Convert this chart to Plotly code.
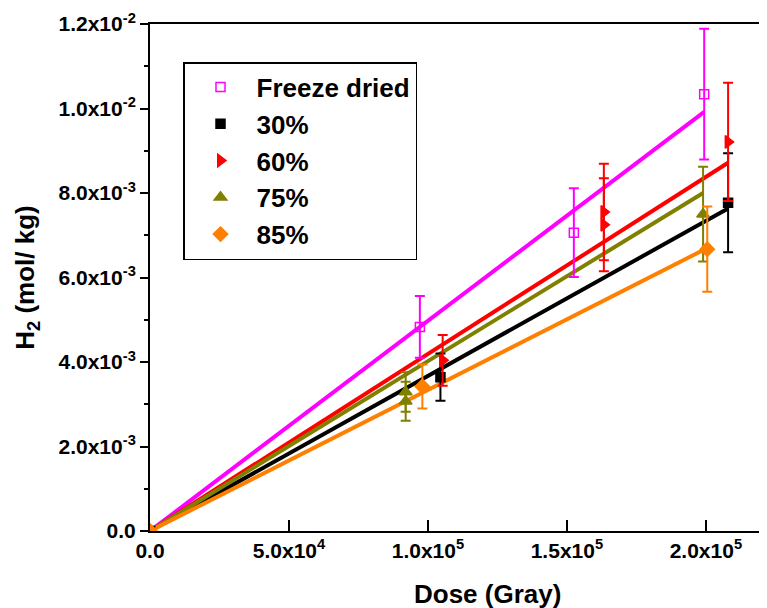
import plotly.graph_objects as go

# ---- data ----
series_names = ["Freeze dried", "30%", "60%", "75%", "85%"]

fd_x = [0, 0.971e5, 1.525e5, 1.994e5]
fd_y = [0, 4.83e-3, 7.06e-3, 10.34e-3]
fd_e = [0, 0.73e-3, 1.05e-3, 1.55e-3]

p30_x = [0, 1.045e5, 2.08e5]
p30_y = [0, 3.64e-3, 7.77e-3]
p30_e = [0, 0.56e-3, 1.17e-3]

p60_x = [0, 1.053e5, 1.633e5, 1.633e5, 2.08e5]
p60_y = [0, 4.04e-3, 7.55e-3, 7.25e-3, 9.21e-3]
p60_e = [0, 0.60e-3, 1.14e-3, 1.10e-3, 1.40e-3]

p75_x = [0, 0.92e5, 0.92e5, 1.99e5]
p75_y = [0, 3.29e-3, 3.07e-3, 7.50e-3]
p75_e = [0, 0.47e-3, 0.46e-3, 1.12e-3]

p85_x = [0, 0.98e5, 2.005e5]
p85_y = [0, 3.42e-3, 6.67e-3]
p85_e = [0, 0.52e-3, 1.01e-3]

# linear fits through origin (slope, mol/kg per Gray)
fit_slopes = [4.975e-8, 3.67e-8, 4.19e-8, 4.02e-8, 3.34e-8]

x_tickvals = [0, 5e4, 1e5, 1.5e5, 2e5]
x_ticktext = ["0.0", "5.0x10<sup>4</sup>", "1.0x10<sup>5</sup>", "1.5x10<sup>5</sup>", "2.0x10<sup>5</sup>"]
y_tickvals = [0, 2e-3, 4e-3, 6e-3, 8e-3, 10e-3, 12e-3]
y_ticktext = ["0.0", "2.0x10<sup>-3</sup>", "4.0x10<sup>-3</sup>", "6.0x10<sup>-3</sup>",
              "8.0x10<sup>-3</sup>", "1.0x10<sup>-2</sup>", "1.2x10<sup>-2</sup>"]

# ---- styles ----
colors = ["#FF00FF", "#000000", "#FF0000", "#808000", "#FF8000"]
symbols = ["square-open", "square", "triangle-right", "triangle-up", "diamond"]
msizes = [9, 9, 11, 11, 11]

xs = [fd_x, p30_x, p60_x, p75_x, p85_x]
ys = [fd_y, p30_y, p60_y, p75_y, p85_y]
es = [fd_e, p30_e, p60_e, p75_e, p85_e]

FONT = "Liberation Sans, Arial, sans-serif"

fig = go.Figure()

# fit lines
for i in range(5):
    xmax = max(xs[i])
    fig.add_trace(go.Scatter(
        x=[0, xmax], y=[0, fit_slopes[i] * xmax], mode="lines",
        line=dict(color=colors[i], width=4), showlegend=False, hoverinfo="skip"))

# data points with error bars
for i in range(5):
    fig.add_trace(go.Scatter(
        x=xs[i], y=ys[i], mode="markers", name=series_names[i],
        marker=dict(symbol=symbols[i], size=msizes[i], color=colors[i],
                    line=dict(color=colors[i], width=1.5)),
        error_y=dict(type="data", array=es[i], visible=True, color=colors[i],
                     thickness=2, width=5)))

# the page body adds an 8px margin, so the figure is 8px smaller than the window
fig.update_layout(
    width=759, height=600,
    margin=dict(l=142, r=0, t=16, b=77, autoexpand=False),
    paper_bgcolor="white", plot_bgcolor="white",
    font=dict(family=FONT, color="black", weight="bold"),
    showlegend=True,
    legend=dict(
        x=(183 - 150) / 617, y=(531 - 62) / 507, xanchor="left", yanchor="top",
        bgcolor="white", bordercolor="black", borderwidth=1.5,
        font=dict(family=FONT, size=26, color="black", weight="bold"),
        itemwidth=62, tracegroupgap=0),
)

fig.update_xaxes(
    range=[0, 2.22e5], showgrid=False, zeroline=False, automargin=False,
    showline=True, linecolor="black", linewidth=2, mirror=True,
    ticks="inside", ticklen=11, tickwidth=2, tickcolor="black",
    tickmode="array", tickvals=x_tickvals, ticktext=x_ticktext,
    tickfont=dict(family=FONT, size=21, color="black", weight="bold"),
)
fig.update_yaxes(
    range=[0, 0.012], showgrid=False, zeroline=False, automargin=False,
    showline=True, linecolor="black", linewidth=2, mirror=False,
    ticks="outside", ticklen=8, tickwidth=2, tickcolor="black",
    tickmode="array", tickvals=y_tickvals, ticktext=y_ticktext,
    tickfont=dict(family=FONT, size=21, color="black", weight="bold"),
    minor=dict(tick0=0, dtick=1e-3, ticks="outside", ticklen=4, tickwidth=2, tickcolor="black"),
    title=dict(text="H<sub>2</sub> (mol/ kg)", standoff=16,
               font=dict(family=FONT, size=26, color="black", weight="bold")),
)

fig.add_annotation(
    text="Dose (Gray)", xref="paper", yref="paper",
    x=(487 - 150) / 617, y=-(594 - 531) / 507, xanchor="center", yanchor="middle",
    showarrow=False, font=dict(family=FONT, size=26, color="black", weight="bold"))

fig.write_html("out.html")
